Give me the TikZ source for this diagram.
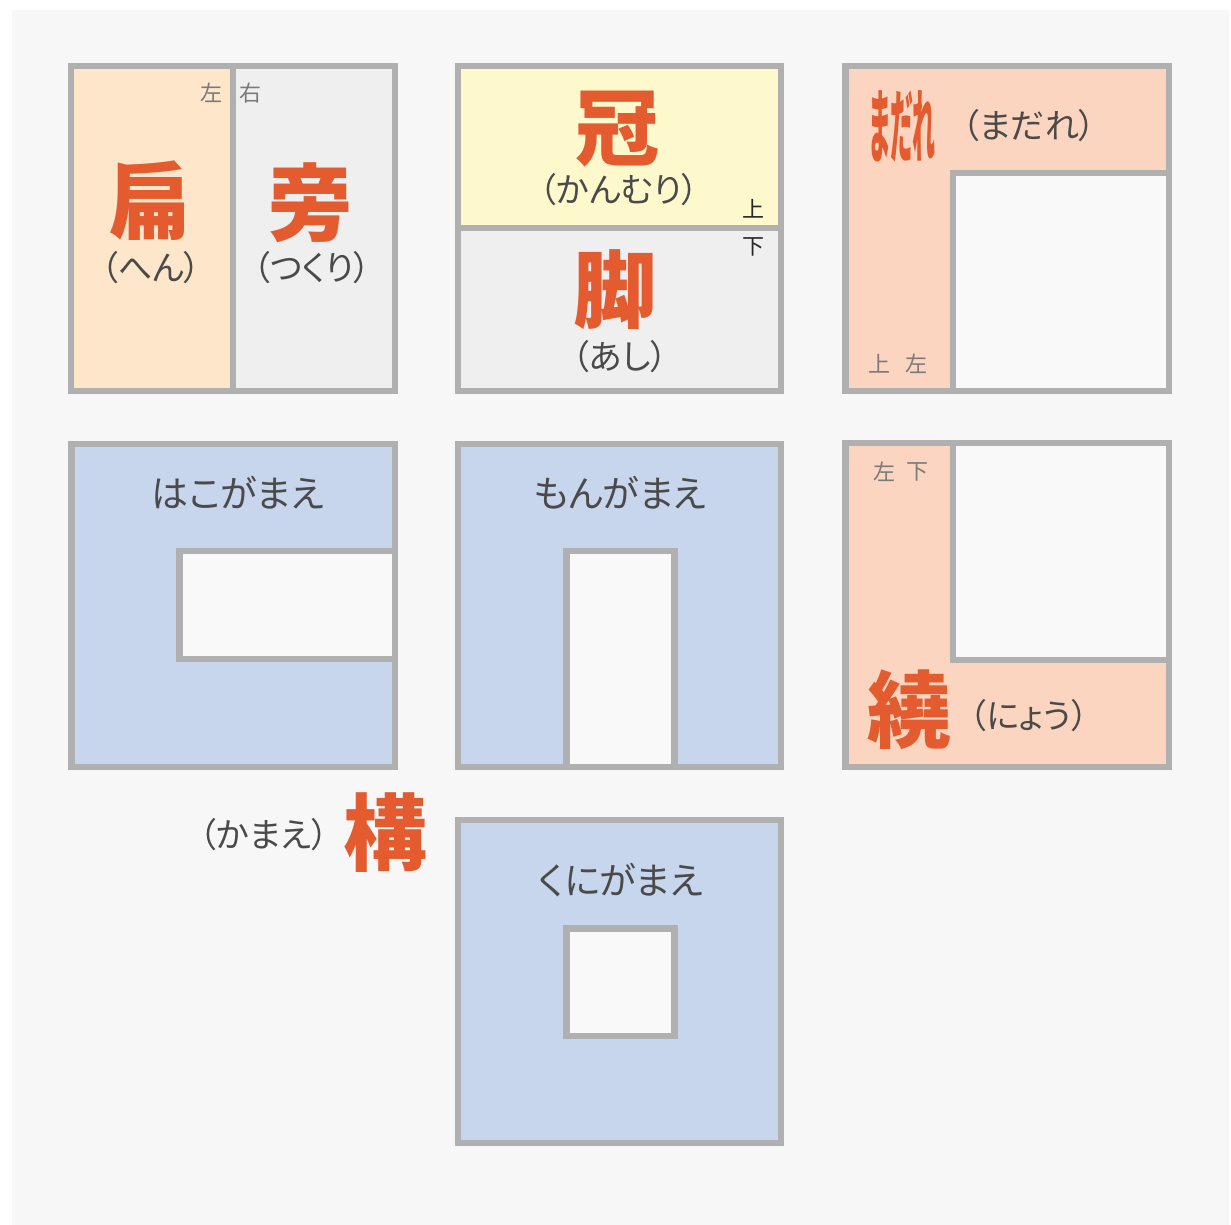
\documentclass[tikz,border=0pt]{standalone}
\usepackage{fontspec}
\newfontfamily\jp{Noto Sans CJK JP}[RawFeature=+palt]
\definecolor{kred}{HTML}{E35B2E}
\definecolor{kdark}{HTML}{4A4A4A}
\definecolor{kgray}{HTML}{7A7A7A}
\definecolor{kframe}{HTML}{B0B0B0}
\definecolor{kpeach}{HTML}{FDE6C9}
\definecolor{klight}{HTML}{EFEFEF}
\definecolor{kyellow}{HTML}{FEF9CC}
\definecolor{ksalmon}{HTML}{FBD5BF}
\definecolor{kblue}{HTML}{C7D6EC}
\definecolor{khole}{HTML}{F9F9F9}
\definecolor{kbg}{HTML}{F7F7F7}
\begin{document}
\begin{tikzpicture}[x=1pt,y=-1pt,
  frame/.style={draw=kframe, line width=6.5pt},
  big/.style={font=\jp\bfseries\fontsize{84}{84}\selectfont, text=kred, inner sep=0pt},
  reading/.style={font=\jp\fontsize{34}{34}\selectfont, text=kdark, inner sep=0pt},
  label/.style={font=\jp\fontsize{37}{37}\selectfont, text=kdark, inner sep=0pt},
  tiny/.style={font=\jp\fontsize{22}{22}\selectfont, text=kgray, inner sep=0pt},
  tinyblack/.style={font=\jp\fontsize{22}{22}\selectfont, text=black!85, inner sep=0pt}]
\useasboundingbox (0,0) rectangle (1231,1225);
\fill[white] (0,0) rectangle (1231,1225);
\fill[kbg] (12,10) rectangle (1229,1225);

% Box 1: hen / tsukuri
\fill[kpeach] (71,66) rectangle (233,391);
\fill[klight] (233,66) rectangle (395,391);
\draw[frame] (71,66) rectangle (395,391);
\draw[frame] (233,66) -- (233,391);
\node[big] (hen) at (150,201) {扁};
\node[reading] (henr) at (151,268) {（へん）};
\node[big] (tsukuri) at (310,203) {旁};
\node[reading] (tsukurir) at (312,268) {（つくり）};
\node[tiny] (hidari1) at (211,93) {左};
\node[tiny] (migi1) at (250,93) {右};

% Box 2: kanmuri / ashi
\fill[kyellow] (458,66) rectangle (781,228);
\fill[klight] (458,228) rectangle (781,391);
\draw[frame] (458,66) rectangle (781,391);
\draw[frame] (458,228) -- (781,228);
\node[big] (kanmuri) at (617,129) {冠};
\node[reading] (kanmurir) at (619,190) {（かんむり）};
\node[big] (ashi) at (615,290) {脚};
\node[reading] (ashir) at (620,357) {（あし）};
\node[tinyblack] (ue2) at (753,209) {上};
\node[tinyblack] (shita2) at (753,247) {下};

% Box 3: madare
\fill[ksalmon] (845.5,66) rectangle (1169,391);
\draw[frame, fill=khole] (953,173) rectangle (1169,391);
\draw[frame] (845.5,66) rectangle (1169,391);
\node[font=\jp\bfseries\fontsize{46}{46}\selectfont, text=kred, inner sep=0pt, xscale=0.5, yscale=1.75] (madare) at (902,126) {まだれ};
\node[reading] (madarer) at (1029,126) {（まだれ）};
\node[tiny] (ue3) at (879,364) {上};
\node[tiny] (hidari3) at (916,364) {左};

% Box 4: hakogamae
\fill[kblue] (71.5,444) rectangle (395,767);
\draw[frame, fill=khole] (179.5,551) rectangle (395,659);
\draw[frame] (71.5,444) rectangle (395,767);
\node[label] (hako) at (238,493) {はこがまえ};

% Box 5: mongamae
\fill[kblue] (458,444) rectangle (781,767);
\draw[frame, fill=khole] (566.5,767) -- (566.5,551) -- (674.5,551) -- (674.5,767);
\draw[frame] (458,444) rectangle (781,767);
\node[label] (mon) at (620,493) {もんがまえ};

% Box 6: nyou
\fill[ksalmon] (845.5,443) rectangle (1169,767);
\draw[frame, fill=khole] (953,443) rectangle (1169,660);
\draw[frame] (845.5,443) rectangle (1169,767);
\node[tiny] (hidari6) at (884,472) {左};
\node[tiny] (shita6) at (917,472) {下};
\node[big] (nyou) at (909,710) {繞};
\node[reading] (nyour) at (1029,716) {（にょう）};

% Kamae label
\node[reading] (kamaer) at (264,835) {（かまえ）};
\node[big] (kamae) at (385,833) {構};

% Box 7: kunigamae
\fill[kblue] (458,820) rectangle (781,1143);
\draw[frame, fill=khole] (566.5,928.5) rectangle (674.5,1036);
\draw[frame] (458,820) rectangle (781,1143);
\node[label] (kuni) at (621,880) {くにがまえ};
\end{tikzpicture}
\end{document}
